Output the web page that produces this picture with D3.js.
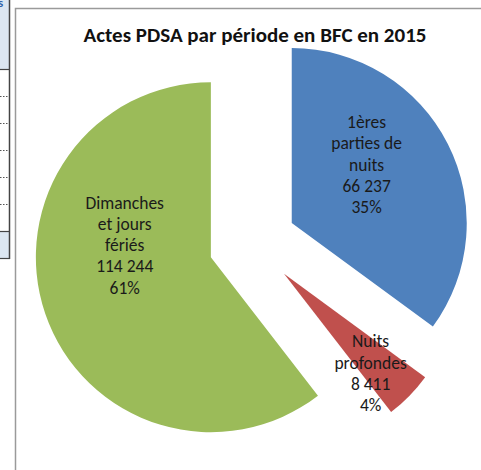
<!DOCTYPE html>
<html>
<head>
<meta charset="utf-8">
<script src="https://cdn.jsdelivr.net/npm/d3@7"></script>
<style>
  html, body { margin: 0; padding: 0; background: #fff; }
  svg { display: block; }
  .lbl { font-family: Carlito, Lato, sans-serif; font-size: 17.5px; fill: #1a1a1a; }
  .title { font-family: Carlito, Lato, sans-serif; font-weight: bold; font-size: 21px; fill: #111; }
</style>
</head>
<body>
<svg id="chart"></svg>
<script>
// data
const categories = ['1ères parties de nuits', 'Nuits profondes', 'Dimanches et jours fériés'];
const values = [66237, 8411, 114244];
const percentLabels = ['35%', '4%', '61%'];
const labelLines = [['1ères', 'parties de', 'nuits'], ['Nuits', 'profondes'], ['Dimanches', 'et jours', 'fériés']];
const colors = ['#4f81bd', '#c0504d', '#9bbb59'];

const width = 481, height = 470;
const cx = 252.5, cy = 243, radius = 175, explode = 44;
// label anchor relative to each exploded slice (distance, angle from 12 o'clock, deg)
const labelPos = [{ r: 95, a: 52 }, { r: 132, a: 139 }, { r: 87, a: 278 }];
const lineH = 21.3;

const svg = d3.select('#chart').attr('width', width).attr('height', height);

// left edge: fragment of a neighbouring table
const side = svg.append('g');
side.append('rect').attr('x', 0).attr('y', 0).attr('width', 9.5).attr('height', 69).attr('fill', '#dce6f1');
side.append('rect').attr('x', 0).attr('y', 231).attr('width', 9.5).attr('height', 27).attr('fill', '#dce6f1');
[96, 123, 150, 177, 204].forEach(y => {
  side.append('line').attr('x1', 0).attr('x2', 9).attr('y1', y + 0.5).attr('y2', y + 0.5)
    .attr('stroke', '#555').attr('stroke-dasharray', '1.5,1.5');
});
[69, 231, 258].forEach(y => {
  side.append('line').attr('x1', 0).attr('x2', 10).attr('y1', y + 0.5).attr('y2', y + 0.5)
    .attr('stroke', '#444').attr('stroke-width', 1.2);
});
side.append('line').attr('x1', 9.5).attr('x2', 9.5).attr('y1', 0).attr('y2', 259)
  .attr('stroke', '#444').attr('stroke-width', 1.5);
side.append('text').attr('x', -2).attr('y', 7).attr('fill', '#2e5fa8')
  .style('font', 'bold 12px Lato, sans-serif').text('s');

// chart frame
svg.append('path')
  .attr('d', `M15.5,${height} V8.5 H${width}`)
  .attr('fill', 'none').attr('stroke', '#9a9a9a').attr('stroke-width', 1.5);

svg.append('text').attr('class', 'title')
  .attr('x', 255).attr('y', 42).attr('text-anchor', 'middle')
  .text('Actes PDSA par période en BFC en 2015');

const pie = d3.pie().sort(null).startAngle(0).endAngle(2 * Math.PI);
const arcs = pie(values);
const arc = d3.arc().innerRadius(0).outerRadius(radius);
const fr = d3.formatLocale({ decimal: ',', thousands: '\u00a0', grouping: [3], currency: ['', ' €'] });
const fmt = fr.format(',d');

const polar = (r, a) => [r * Math.sin(a), -r * Math.cos(a)];

const slices = svg.append('g').attr('transform', `translate(${cx},${cy})`)
  .selectAll('g.slice')
  .data(arcs)
  .join('g')
  .attr('class', 'slice')
  .attr('transform', d => {
    const [dx, dy] = polar(explode, (d.startAngle + d.endAngle) / 2);
    return `translate(${dx},${dy})`;
  });

slices.append('path')
  .attr('d', arc)
  .attr('fill', (d, i) => colors[i]);

slices.each(function (d, i) {
  const lines = labelLines[i].concat([fmt(values[i]), percentLabels[i]]);
  const [lx, ly] = polar(labelPos[i].r, labelPos[i].a * Math.PI / 180);
  const t = d3.select(this).append('text')
    .attr('class', 'lbl')
    .attr('text-anchor', 'middle')
    .attr('x', lx)
    .attr('y', ly - (lines.length - 1) * lineH / 2 + 6);
  t.selectAll('tspan')
    .data(lines)
    .join('tspan')
    .attr('x', lx)
    .attr('dy', (s, k) => k === 0 ? 0 : lineH)
    .text(s => s);
});
</script>
</body>
</html>
